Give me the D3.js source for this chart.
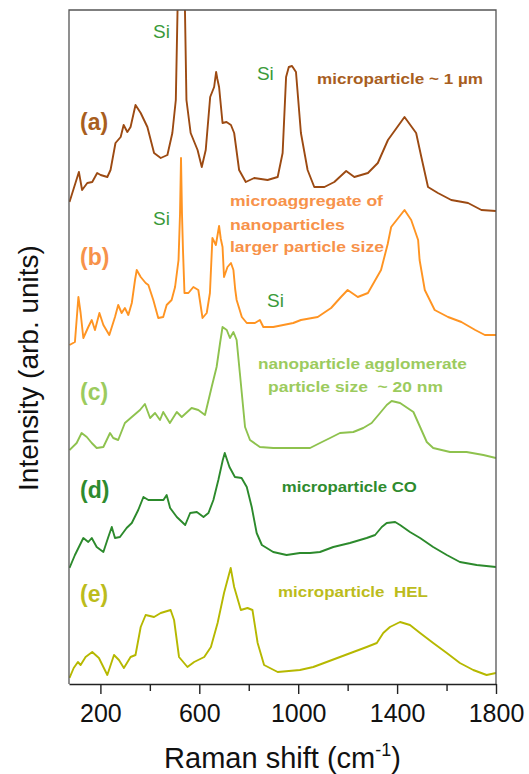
<!DOCTYPE html>
<html>
<head>
<meta charset="utf-8">
<script src="https://cdn.jsdelivr.net/npm/d3@7"></script>
<style>
  body { margin: 0; background: #fff; }
  svg { font-family: Arial, "Liberation Sans", sans-serif; }
</style>
</head>
<body>
<div id="chart"></div>
<script>
// Raman spectra, stacked with offsets (wavenumber cm-1, intensity arb. units)
const spectrumA = [
  [75,482],[113,512],[126,494],[147,501],[167,502],[187,511],[201,509],[228,507],[241,514],
  [261,541],[282,547],[294,559],[309,552],[322,557],[342,579],[363,571],[390,557],[417,531],
  [444,526],[471,529],[491,551],[505,584],[512,674],[520,760],[534,760],[542,674],[548,584],
  [565,551],[593,534],[610,517],[626,534],[644,587],[660,597],[668,612],[673,605],[680,597],
  [694,561],[710,562],[728,559],[741,551],[761,514],[788,502],[822,506],[876,504],[917,507],
  [937,531],[951,607],[962,617],[975,618],[991,612],[1011,551],[1038,514],[1065,497],[1106,497],
  [1146,502],[1194,513],[1227,507],[1282,511],[1322,521],[1363,544],[1430,567],[1477,551],
  [1498,527],[1525,497],[1565,491],[1619,484],[1687,481],[1741,474],[1800,473]
];
const spectrumB = [
  [75,339],[97,342],[111,387],[120,371],[131,346],[151,357],[165,364],[178,354],[196,371],
  [212,359],[236,349],[259,367],[272,379],[286,371],[299,376],[313,369],[327,381],[340,404],
  [347,414],[363,407],[383,401],[394,399],[414,384],[434,366],[454,367],[468,379],[488,384],
  [502,397],[516,424],[522,470],[526,526],[530,470],[534,434],[540,391],[556,391],[576,397],
  [596,394],[613,366],[630,371],[643,391],[653,446],[667,439],[680,458],[687,445],[694,437],
  [700,407],[714,417],[728,421],[738,414],[745,395],[751,384],[772,367],[792,361],[825,361],
  [845,364],[859,357],[899,357],[980,361],[1011,364],[1079,367],[1133,376],[1173,387],
  [1200,394],[1241,387],[1282,391],[1335,414],[1362,440],[1376,457],[1430,474],[1457,464],
  [1485,444],[1491,424],[1512,394],[1552,374],[1606,367],[1660,362],[1716,354],[1755,349],
  [1800,349]
];
const spectrumC = [
  [75,234],[104,241],[124,251],[145,247],[165,241],[185,236],[212,237],[239,251],[252,246],
  [272,244],[299,261],[327,267],[360,274],[380,280],[401,266],[421,271],[441,264],[454,272],
  [481,261],[509,272],[529,267],[569,276],[596,274],[623,269],[650,297],[670,317],[684,341],
  [694,357],[711,354],[724,346],[738,352],[751,344],[764,311],[785,257],[805,244],[845,237],
  [899,236],[980,236],[1048,236],[1088,241],[1129,246],[1169,251],[1223,252],[1263,256],
  [1297,261],[1331,271],[1358,279],[1378,283],[1412,281],[1466,272],[1493,257],[1520,242],
  [1546,236],[1614,232],[1681,232],[1749,229],[1800,226]
];
const spectrumD = [
  [75,116],[97,129],[131,146],[151,142],[165,146],[185,137],[212,132],[232,147],[246,157],
  [259,146],[279,147],[306,156],[327,161],[353,174],[374,187],[394,184],[428,184],[455,184],
  [468,189],[482,176],[509,167],[543,159],[563,171],[590,172],[617,167],[637,171],[657,184],
  [677,204],[695,224],[703,231],[722,217],[744,207],[771,206],[792,197],[812,177],[832,151],
  [853,139],[899,132],[953,129],[1007,131],[1048,131],[1088,132],[1142,137],[1209,141],
  [1277,146],[1311,149],[1338,157],[1358,161],[1392,162],[1412,159],[1452,152],[1493,146],
  [1546,137],[1601,129],[1654,122],[1722,119],[1800,117]
];
const spectrumE = [
  [75,6],[92,16],[109,22],[120,19],[140,27],[167,32],[194,26],[228,9],[255,29],[275,24],
  [295,16],[322,27],[342,29],[363,57],[383,69],[417,67],[444,71],[484,74],[498,64],[518,27],
  [552,17],[579,22],[620,27],[647,37],[674,61],[700,91],[727,116],[741,97],[768,74],[795,76],
  [815,74],[836,41],[862,19],[917,12],[1007,14],[1061,17],[1115,22],[1169,27],[1223,32],
  [1277,37],[1318,41],[1344,51],[1371,57],[1412,62],[1452,59],[1493,51],[1546,41],[1601,31],
  [1654,21],[1708,14],[1762,9],[1800,11]
];

const spectra = [spectrumA, spectrumB, spectrumC, spectrumD, spectrumE];
const lineColors = ['#9c4a12', '#ff9422', '#8ec24e', '#2c8a2c', '#b6b800'];
const textColors = ['#a85e1e', '#f7924a', '#9ccb5e', '#2e8b2e', '#bcbc1c'];
const seriesLabels = ['(a)', '(b)', '(c)', '(d)', '(e)'];
const labelBaselines = [130, 265, 400, 498, 602];

// sample descriptions: [series index, text, x (cm-1), baseline (arb.)]
const notes = [
  [0, 'microparticle ~ 1 \u00b5m', 1076, 600],
  [1, 'microaggregate of', 724, 478],
  [1, 'nanoparticles', 724, 454],
  [1, 'larger particle size', 724, 432],
  [2, 'nanoparticle agglomerate', 837, 315],
  [2, 'particle size  ~ 20 nm', 878, 292],
  [3, 'microparticle CO', 934, 192],
  [4, 'microparticle  HEL', 918, 87]
];
const noteWidths = [166, 153, 115, 154, 209, 175, 135, 150];

// silicon substrate lines: [x (cm-1), baseline (arb.)]
const siMarks = [[413, 646], [833, 604], [413, 459], [874, 377]];

const xTicks = [200, 600, 1000, 1400, 1800];
const xMinorTicks = [400, 800, 1200, 1600];

const width = 529, height = 774;
const margin = { top: 10, right: 33, bottom: 90, left: 69 };
const innerW = width - margin.left - margin.right;
const innerH = height - margin.top - margin.bottom;

const svg = d3.select('#chart').append('svg')
  .attr('width', width)
  .attr('height', height);

const x = d3.scaleLinear().domain([73, 1800]).range([0, innerW]);
const y = d3.scaleLinear().domain([0, 674]).range([innerH, 0]);

const g = svg.append('g').attr('transform', `translate(${margin.left},${margin.top})`);

g.append('clipPath').attr('id', 'plot-clip')
  .append('rect').attr('width', innerW).attr('height', innerH);

const line = d3.line().x(d => x(d[0])).y(d => y(d[1]));

g.append('g').attr('clip-path', 'url(#plot-clip)')
  .selectAll('path')
  .data(spectra)
  .join('path')
  .attr('d', line)
  .attr('fill', 'none')
  .attr('stroke', (d, i) => lineColors[i])
  .attr('stroke-width', 1.9)
  .attr('stroke-linejoin', 'round');

// frame (top, left, right)
g.append('path')
  .attr('d', `M0,${innerH}V0H${innerW}V${innerH}`)
  .attr('fill', 'none')
  .attr('stroke', '#555')
  .attr('stroke-width', 1.3);

const xAxis = g.append('g')
  .attr('transform', `translate(0,${innerH})`)
  .call(d3.axisBottom(x).tickValues(xTicks).tickFormat(d3.format('d'))
    .tickSize(10).tickPadding(10).tickSizeOuter(0));
xAxis.select('.domain').attr('stroke', '#222').attr('stroke-width', 1.4);
xAxis.selectAll('.tick line').attr('stroke', '#222').attr('stroke-width', 1.4);
xAxis.selectAll('.tick text')
  .attr('font-size', 25)
  .attr('fill', '#111')
  .attr('font-family', 'Arial, "Liberation Sans", sans-serif');

g.append('g')
  .attr('transform', `translate(0,${innerH})`)
  .call(d3.axisBottom(x).tickValues(xMinorTicks).tickSize(7).tickFormat(''))
  .call(a => a.select('.domain').remove())
  .selectAll('.tick line').attr('stroke', '#222').attr('stroke-width', 1.4);

// axis titles
const xTitle = svg.append('text')
  .attr('x', margin.left + innerW / 2)
  .attr('y', 768)
  .attr('text-anchor', 'middle')
  .attr('font-size', 29)
  .attr('fill', '#111');
xTitle.append('tspan').text('Raman shift (cm');
xTitle.append('tspan').attr('font-size', 18).attr('dy', -12).text('-1');
xTitle.append('tspan').attr('dy', 12).text(')');

svg.append('text')
  .attr('transform', `translate(38,368) rotate(-90)`)
  .attr('text-anchor', 'middle')
  .attr('font-size', 28)
  .attr('fill', '#111')
  .text('Intensity (arb. units)');

// series letters
g.selectAll('.series-label')
  .data(seriesLabels)
  .join('text')
  .attr('class', 'series-label')
  .attr('x', 11)
  .attr('y', (d, i) => labelBaselines[i] - margin.top)
  .attr('font-size', 23)
  .attr('font-weight', 'bold')
  .attr('fill', (d, i) => textColors[i])
  .text(d => d);

// descriptions
g.selectAll('.note')
  .data(notes)
  .join('text')
  .attr('class', 'note')
  .attr('x', d => x(d[2]))
  .attr('y', d => y(d[3]))
  .attr('font-size', 15.5)
  .attr('font-weight', 'bold')
  .attr('textLength', (d, i) => noteWidths[i])
  .attr('lengthAdjust', 'spacingAndGlyphs')
  .style('white-space', 'pre')
  .attr('fill', d => textColors[d[0]])
  .text(d => d[1]);

g.selectAll('.si')
  .data(siMarks)
  .join('text')
  .attr('class', 'si')
  .attr('x', d => x(d[0]))
  .attr('y', d => y(d[1]))
  .attr('font-size', 19)
  .attr('fill', '#3a9a3a')
  .text('Si');
</script>
</body>
</html>
